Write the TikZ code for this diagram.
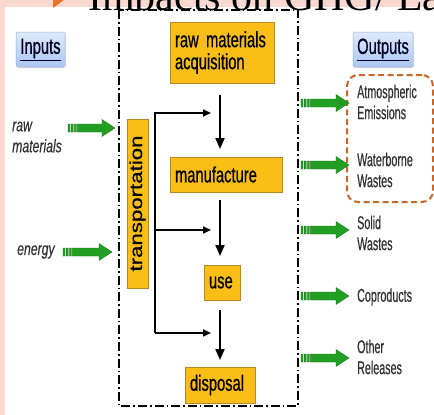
\documentclass[tikz,border=0pt]{standalone}
\usepackage{fontspec}
\usepackage{graphicx}
\setmainfont{Liberation Sans}
\newfontfamily\narrowf[FakeStretch=0.67,FakeBold=0.6]{Liberation Sans}
\newfontfamily\infamily[FakeStretch=0.68,FakeBold=0.3]{Liberation Sans}
\newfontfamily\outfamily[FakeStretch=0.58,FakeBold=0.4]{Liberation Sans}
\newfontfamily\transf[FakeBold=0.6]{Liberation Sans}
\newfontfamily\titlef{Liberation Serif}
\usetikzlibrary{arrows.meta,calc,shadows}
\definecolor{pinkbg}{RGB}{249,217,207}
\definecolor{boxfill}{RGB}{250,190,22}
\definecolor{boxline}{RGB}{180,135,40}
\definecolor{garrowc}{RGB}{34,158,34}
\definecolor{garrowd}{RGB}{20,105,20}
\definecolor{dashor}{RGB}{198,104,44}
\definecolor{lbtop}{RGB}{222,234,252}
\definecolor{lbbot}{RGB}{172,198,240}
\definecolor{lbline}{RGB}{155,175,212}
\definecolor{bulletc}{RGB}{232,118,40}
\definecolor{outtext}{RGB}{50,50,50}
\newcommand\garrow[2]{%
  \filldraw[garrowstyle] let \p1=(#1), \p2=(#2) in
   (\x1,\y1-4pt) rectangle (\x1+2pt,\y1+4pt)
   (\x1+3.2pt,\y1-4pt) rectangle (\x1+5.2pt,\y1+4pt)
   (\x1+6.4pt,\y1-4pt) rectangle (\x1+8.4pt,\y1+4pt)
   (\x1+9.6pt,\y1-4pt) -- (\x2-13pt,\y1-4pt) -- (\x2-13pt,\y1-8.5pt) --
   (\x2,\y1) -- (\x2-13pt,\y1+8.5pt) -- (\x2-13pt,\y1+4pt) --
   (\x1+9.6pt,\y1+4pt) -- cycle;}
\begin{document}
\begin{tikzpicture}[x=1pt,y=-1pt,
  garrowstyle/.style={fill=garrowc,draw=garrowd,line width=0.3pt},
  stagebox/.style={draw=boxline,fill=boxfill,line width=0.6pt,inner xsep=5pt,inner ysep=0pt,
    align=left,font=\narrowf\fontsize{22}{22}\selectfont},
  lblbox/.style={draw=lbline,top color=lbtop,bottom color=lbbot,rounded corners=1.5pt,line width=0.5pt,
    minimum height=35pt,inner sep=0pt,font=\narrowf\fontsize{22}{22}\selectfont,text=black!85!blue,
    drop shadow={shadow xshift=1.2pt,shadow yshift=-1.2pt,fill=black!18}},
  outtxt/.style={anchor=west,align=left,inner sep=0pt,text=outtext,font=\outfamily\fontsize{18.5}{21}\selectfont},
  intxt/.style={anchor=west,align=left,inner sep=0pt,text=outtext,font=\infamily\itshape\fontsize{18}{21}\selectfont},
  flowarrow/.style={line width=2pt,-{Triangle[length=11pt,width=9pt]}},
  brarrow/.style={line width=1.6pt,-{Triangle[length=8pt,width=7pt]}},
  framestyle/.style={line width=1.6pt,dash pattern=on 9pt off 3pt on 1.6pt off 3pt},
  orbox/.style={draw=dashor,line width=2pt,dash pattern=on 6pt off 3.5pt,rounded corners=11pt}]
\useasboundingbox (0,0) rectangle (434,415);
% background
\fill[pinkbg] (0,0) rectangle (434,415);
\fill[white] (5,7) rectangle (434,415);
\fill[bulletc] (53,-14) -- (68,-3) -- (53,8) -- cycle;
\begin{scope}
  \clip (0,0) rectangle (434,10);
  \node[anchor=base west,inner sep=0pt,font=\titlef\fontsize{42}{42}\selectfont] (title) at (88,10.5) {Impacts on GHG/ La};
\end{scope}
% frame
\draw[framestyle] (119,10) rectangle (298,406);
% labels
\node[lblbox,minimum width=49pt] (inputs) at (40.5,49.5) {\underline{Inputs}};
\node[lblbox,minimum width=60pt] (outputs) at (383,49.5) {\underline{Outputs}};
% stages
\node[stagebox,text width=94pt,minimum height=61pt] (raw) at (222,52.5) {raw materials\\acquisition};
\node[stagebox,text width=102pt,minimum height=35pt] (manu) at (226,174.5) {manufacture};
\node[stagebox,text width=26pt,minimum height=35pt] (use) at (222,282.5) {use};
\node[stagebox,text width=60pt,minimum height=36pt] (disp) at (220,385) {disposal};
\node[draw=boxline,fill=boxfill,line width=0.6pt,rotate=90,minimum width=169pt,minimum height=21pt,inner sep=0pt,
  font=\transf\fontsize{17.5}{17.5}\selectfont] (trans) at (137.5,203.5) {\scalebox{1.27}[1]{transportation}};
% main flow arrows
\coordinate (f1a) at (220,95);  \coordinate (f1b) at (220,149);
\coordinate (f2a) at (220,200); \coordinate (f2b) at (220,256);
\coordinate (f3a) at (220,310); \coordinate (f3b) at (220,360);
\draw[flowarrow] (f1a) -- (f1b);
\draw[flowarrow] (f2a) -- (f2b);
\draw[flowarrow] (f3a) -- (f3b);
% branch arrows
\coordinate (bb) at (155,333); \coordinate (bm) at (155,230);
\coordinate (t1) at (211,113); \coordinate (t2) at (211,230); \coordinate (t3) at (211,333);
\draw[brarrow] (bb) |- (t1);
\draw[brarrow] (bm) -- (t2);
\draw[brarrow] (bb) -- (t3);
% inputs
\node[intxt] (rawin) at (12,137) {raw\\materials};
\node[intxt] (energy) at (17,252) {energy};
\coordinate (ia1) at (68,128);  \coordinate (ia2) at (115,128);
\coordinate (ib1) at (63,252);  \coordinate (ib2) at (112,252);
\garrow{ia1}{ia2}
\garrow{ib1}{ib2}
% outputs
\node[orbox,minimum width=86pt,minimum height=127pt] (group) at (390,138.5) {};
\node[outtxt] (atm) at (357,102) {Atmospheric\\Emissions};
\node[outtxt] (water) at (357,170) {Waterborne\\Wastes};
\node[outtxt] (solid) at (357,233) {Solid\\Wastes};
\node[outtxt] (copr) at (357,297) {Coproducts};
\node[outtxt] (other) at (357,357) {Other\\Releases};
\coordinate (o1a) at (301,103); \coordinate (o1b) at (349,103);
\coordinate (o2a) at (301,165); \coordinate (o2b) at (349,165);
\coordinate (o3a) at (301,230); \coordinate (o3b) at (349,230);
\coordinate (o4a) at (301,296); \coordinate (o4b) at (349,296);
\coordinate (o5a) at (301,358); \coordinate (o5b) at (349,358);
\garrow{o1a}{o1b}
\garrow{o2a}{o2b}
\garrow{o3a}{o3b}
\garrow{o4a}{o4b}
\garrow{o5a}{o5b}
\end{tikzpicture}
\end{document}
